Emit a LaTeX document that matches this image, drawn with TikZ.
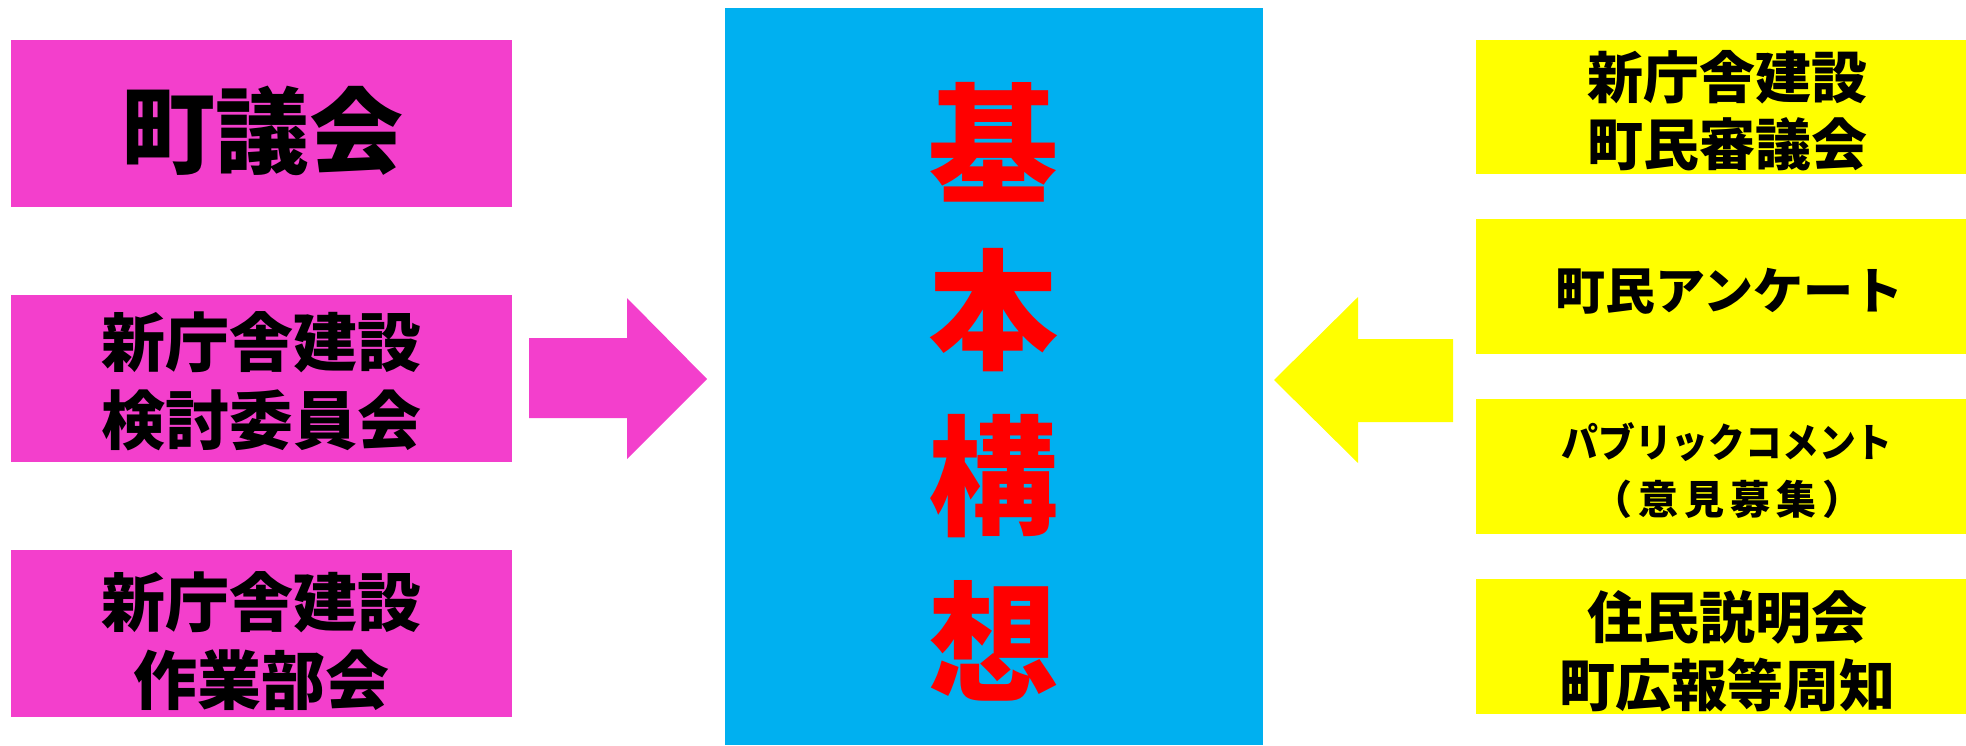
\documentclass[tikz,border=0pt]{standalone}
\usepackage{fontspec}
\newfontfamily\jp{Noto Sans CJK JP}
\usepackage{graphicx}
\definecolor{magC}{RGB}{243,63,204}
\definecolor{blueC}{RGB}{0,176,240}
\definecolor{yelC}{RGB}{255,255,0}
\definecolor{redC}{RGB}{255,0,0}
\begin{document}
\begin{tikzpicture}[x=1pt,y=-1pt,
  txt/.style={inner sep=0pt, align=center, text=black, font=\jp\bfseries},
  magbox/.style={fill=magC, draw=none, inner sep=0pt, minimum width=501pt, minimum height=167pt},
  yelbox/.style={fill=yelC, draw=none, inner sep=0pt, minimum width=490pt, minimum height=135pt},
  centerbox/.style={fill=blueC, draw=none, inner sep=0pt, minimum width=538pt, minimum height=737pt},
  magarrow/.style={fill=magC, draw=none},
  yelarrow/.style={fill=yelC, draw=none}]
\useasboundingbox (0,0) rectangle (1966,745);
% center
\node[centerbox] (c) at (994,376.5) {};
\node[inner sep=0pt, align=center, text=redC, font=\jp\bfseries\fontsize{130}{166}\selectfont] (ct) at (993,392) {基\\本\\構\\想};
% left boxes
\node[magbox] (l1) at (261.5,123.5) {};
\node[txt, font=\jp\bfseries\fontsize{94}{110}\selectfont] (l1t) at (262,131) {町議会};
\node[magbox] (l2) at (261.5,378.5) {};
\node[txt, font=\jp\bfseries\fontsize{64}{78}\selectfont] (l2t) at (261,381) {新庁舎建設\\検討委員会};
\node[magbox] (l3) at (261.5,633.5) {};
\node[txt, font=\jp\bfseries\fontsize{64}{78}\selectfont] (l3t) at (261,641) {新庁舎建設\\作業部会};
% right boxes
\node[yelbox, minimum height=134pt] (r1) at (1721,107) {};
\node[txt, font=\jp\bfseries\fontsize{56}{67}\selectfont] (r1t) at (1727,111) {新庁舎建設\\町民審議会};
\node[yelbox] (r2) at (1721,286.5) {};
\node[txt, font=\jp\bfseries\fontsize{50}{64}\selectfont] (r2t) at (1729,291) {町民アンケート};
\node[yelbox] (r3) at (1721,466.5) {};
\node[txt, font=\jp\bfseries\fontsize{40}{57}\selectfont] (r3t) at (1727,471) {\scalebox{0.92}[1]{パブリックコメント}\\（\hspace{6pt}意\hspace{6pt}見\hspace{6pt}募\hspace{6pt}集\hspace{6pt}）};
\node[yelbox] (r4) at (1721,646.5) {};
\node[txt, font=\jp\bfseries\fontsize{56}{68}\selectfont] (r4t) at (1727,651) {住民説明会\\町広報等周知};
% arrows
\coordinate (la) at (529,378);
\coordinate (ra) at (1453,380);
\fill[magarrow] (la) ++(0,-40) -- (627,338) -- (627,298) -- (707,379) -- (627,459) -- (627,418) -- (529,418) -- cycle;
\fill[yelarrow] (ra) ++(0,-41) -- (1358,339) -- (1358,297) -- (1274,380) -- (1358,463) -- (1358,422) -- (1453,422) -- cycle;
\end{tikzpicture}
\end{document}
